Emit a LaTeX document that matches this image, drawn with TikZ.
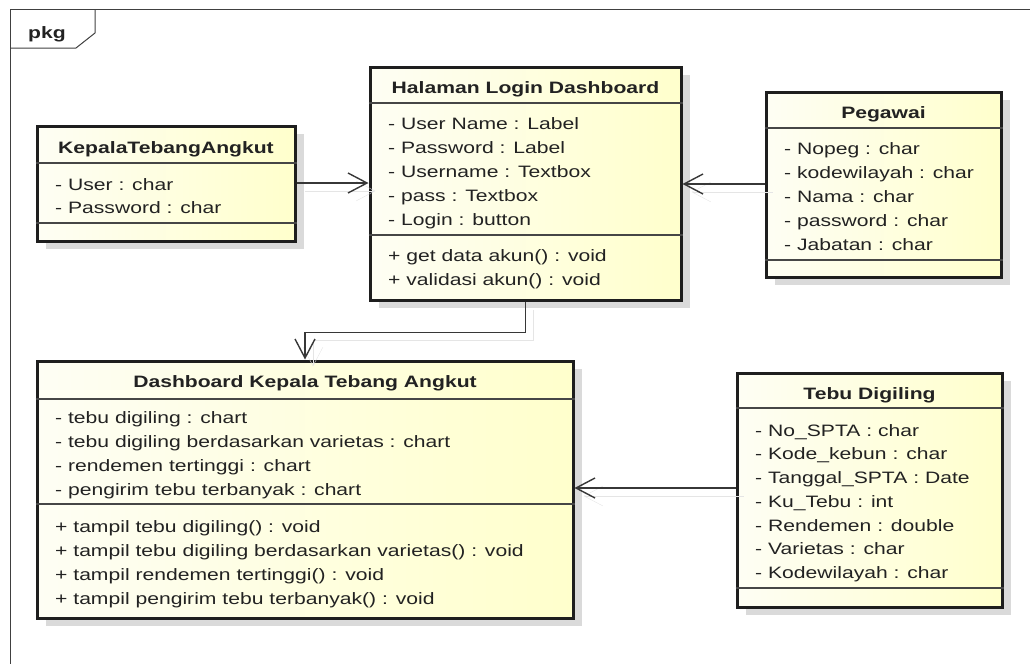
\documentclass[tikz,border=0pt]{standalone}
\usepackage{fontspec}
\setmainfont{Liberation Sans}[FakeStretch=1.28]
\usetikzlibrary{arrows.meta,fit,shadows}

\definecolor{boxline}{RGB}{30,30,30}
\definecolor{sepline}{RGB}{70,70,70}
\definecolor{wirecol}{RGB}{55,55,55}
\definecolor{paleleft}{RGB}{254,254,244}
\definecolor{paleyellow}{RGB}{255,255,204}
\definecolor{txtcol}{RGB}{34,34,34}
\definecolor{shadowgray}{RGB}{218,218,218}

\tikzset{
  frameline/.style={draw=black!75, line width=1pt},
  classbox/.style={draw=boxline, line width=3pt, inner sep=0pt,
    left color=paleleft, right color=paleyellow,
    general shadow={fill=shadowgray, shadow xshift=9pt, shadow yshift=-8pt}},
  divider/.style={draw=sepline, line width=1.4pt},
  classname/.style={font=\bfseries, text=txtcol, inner sep=0pt,
    text height=12pt, text depth=0pt},
  member/.style={anchor=west, text=txtcol, inner sep=0pt,
    text height=12pt, text depth=0pt},
  assoc/.style={draw=wirecol, line width=1.4pt,
    -{Straight Barb[length=19pt,width=20pt]},
    preaction={draw=shadowgray!70, transform canvas={shift={(8pt,-8pt)}}}},
}

\begin{document}
\fontsize{16.5}{20}\selectfont
\begin{tikzpicture}[x=1pt,y=-1pt]
  \useasboundingbox (0,0) rectangle (1030,664);

  % package frame
  \draw[frameline] (1030,9) -- (10,9) -- (10,664);
  \draw[frameline] (95,9) -- (95,33) -- (76,48) -- (10,48);
  \node[classname, anchor=west] (pkgname) at (28,32) {pkg};

  % KepalaTebangAngkut
  \node[classbox, fit={(37,126) (295,241)}] (kepala) {};
  \draw[divider] (kepala.west |- 0,163) -- (kepala.east |- 0,163);
  \draw[divider] (kepala.west |- 0,223) -- (kepala.east |- 0,223);
  \node[classname] (kepala-name) at (166,147) {KepalaTebangAngkut};
  \node[member] (kepala-a1) at (55,184) {- User : char};
  \node[member] (kepala-a2) at (55,207) {- Password : char};

  % Halaman Login Dashboard
  \node[classbox, fit={(370,67) (681,300)}] (login) {};
  \draw[divider] (login.west |- 0,103) -- (login.east |- 0,103);
  \draw[divider] (login.west |- 0,235) -- (login.east |- 0,235);
  \node[classname] (login-name) at (525.5,87) {Halaman Login Dashboard};
  \foreach \txt [count=\i] in {- User Name : Label, - Password : Label,
      - Username : Textbox, - pass : Textbox, - Login : button}
    \node[member] (login-a\i) at (388,99+24*\i) {\txt};
  \node[member] (login-m1) at (388,255) {+ get data akun() : void};
  \node[member] (login-m2) at (388,279) {+ validasi akun() : void};

  % Pegawai
  \node[classbox, fit={(766,92) (1001,277)}] (pegawai) {};
  \draw[divider] (pegawai.west |- 0,128) -- (pegawai.east |- 0,128);
  \draw[divider] (pegawai.west |- 0,260) -- (pegawai.east |- 0,260);
  \node[classname] (pegawai-name) at (883.5,112) {Pegawai};
  \foreach \txt [count=\i] in {- Nopeg : char, - kodewilayah : char,
      - Nama : char, - password : char, - Jabatan : char}
    \node[member] (pegawai-a\i) at (784,124+24*\i) {\txt};

  % Dashboard Kepala Tebang Angkut
  \node[classbox, fit={(37,361) (573,618)}] (dash) {};
  \draw[divider] (dash.west |- 0,399) -- (dash.east |- 0,399);
  \draw[divider] (dash.west |- 0,504) -- (dash.east |- 0,504);
  \node[classname] (dash-name) at (305,381) {Dashboard Kepala Tebang Angkut};
  \foreach \txt [count=\i] in {- tebu digiling : chart,
      - tebu digiling berdasarkan varietas : chart,
      - rendemen tertinggi : chart, - pengirim tebu terbanyak : chart}
    \node[member] (dash-a\i) at (55,393+24*\i) {\txt};
  \foreach \txt [count=\i] in {+ tampil tebu digiling() : void,
      + tampil tebu digiling berdasarkan varietas() : void,
      + tampil rendemen tertinggi() : void,
      + tampil pengirim tebu terbanyak() : void}
    \node[member] (dash-m\i) at (55,502+24*\i) {\txt};

  % Tebu Digiling
  \node[classbox, fit={(737,373) (1002,607)}] (tebu) {};
  \draw[divider] (tebu.west |- 0,408) -- (tebu.east |- 0,408);
  \draw[divider] (tebu.west |- 0,588) -- (tebu.east |- 0,588);
  \node[classname] (tebu-name) at (869.5,393) {Tebu Digiling};
  \foreach \txt [count=\i] in {- No\_SPTA : char, - Kode\_kebun : char,
      - Tanggal\_SPTA : Date, - Ku\_Tebu : int, - Rendemen : double,
      - Varietas : char, - Kodewilayah : char}
    \node[member] (tebu-a\i) at (755,406.3+23.75*\i) {\txt};

  % associations
  \draw[assoc] (kepala.east |- 0,183) -- (login.west |- 0,183);
  \draw[assoc] (pegawai.west |- 0,184) -- (login.east |- 0,184);
  \draw[assoc] (login.south) -- ++(0,31) -| (dash.north);
  \draw[assoc] (tebu.west |- 0,488) -- (dash.east |- 0,488);
\end{tikzpicture}
\end{document}
